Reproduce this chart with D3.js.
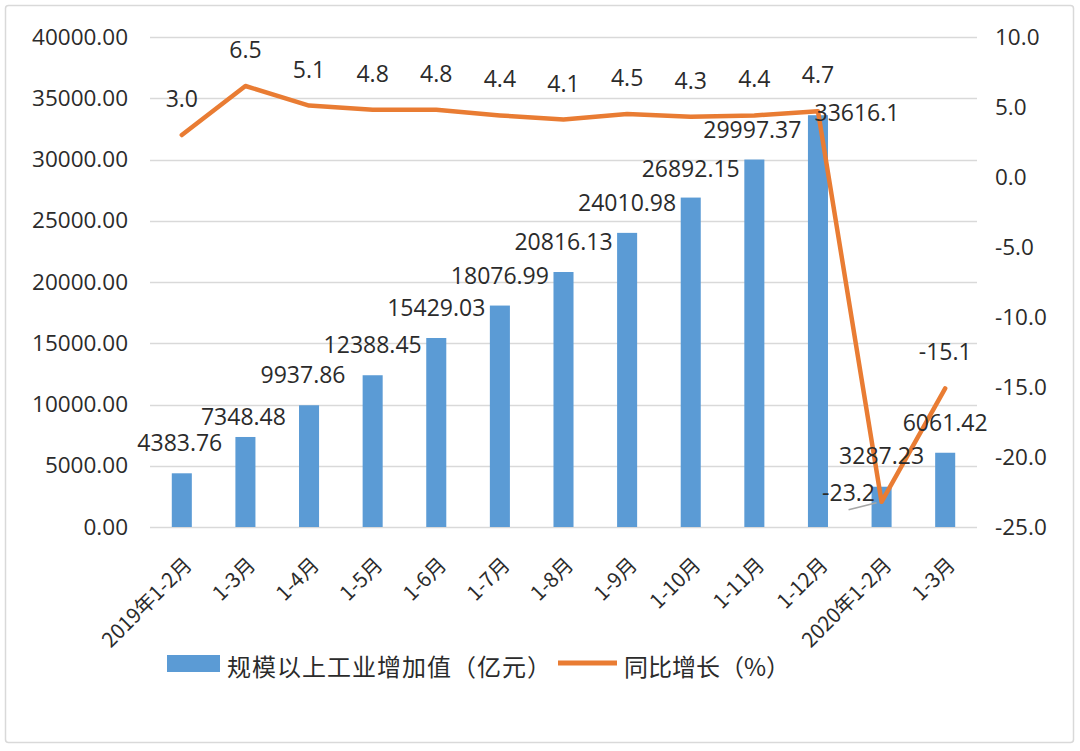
<!DOCTYPE html>
<html>
<head>
<meta charset="utf-8">
<script src="https://cdn.jsdelivr.net/npm/d3@7"></script>
<style>
  html, body { margin: 0; padding: 0; background: #fff; }
  svg { display: block; }
</style>
</head>
<body>
<svg id="chart" width="1080" height="751"></svg>
<script>
// ---------- data ----------
const categories = ["2019年1-2月","1-3月","1-4月","1-5月","1-6月","1-7月","1-8月","1-9月","1-10月","1-11月","1-12月","2020年1-2月","1-3月"];
const industrialValue = [4383.76, 7348.48, 9937.86, 12388.45, 15429.03, 18076.99, 20816.13, 24010.98, 26892.15, 29997.37, 33616.1, 3287.23, 6061.42];
const yoyGrowth = [3.0, 6.5, 5.1, 4.8, 4.8, 4.4, 4.1, 4.5, 4.3, 4.4, 4.7, -23.2, -15.1];
const leftTicks = [0, 5000, 10000, 15000, 20000, 25000, 30000, 35000, 40000];
const rightTicks = [-25, -20, -15, -10, -5, 0, 5, 10];
const seriesNames = ["规模以上工业增加值（亿元）", "同比增长（%）"];

// label nudges (pixels) relative to default placement
const barLabelNudge = [[-2,0],[-2,10],[-6,0],[0,0],[0,0],[0,0],[0,0],[0,0],[0,1],[-2,0],[39,28],[0,-1],[0,0]];
const lineLabelNudge = [[0,0],[0,0],[0,0],[0,0],[0,0],[0,0],[0,0],[0,0],[0,0],[0,0],[0,0],[-33,27],[0,0]];

// ---------- style ----------
const BLUE = "#5B9BD5", ORANGE = "#E97C33", TEXT = "#2b2b2b", GRID = "#d9d9d9";
const numFont = "'Open Sans', 'Noto Sans', sans-serif";
const cjkFont = "'Noto Sans CJK SC', 'Noto Sans', sans-serif";

const svg = d3.select("#chart");
const plot = { left: 150, right: 977, top: 37, bottom: 527 };

// frame
svg.append("rect").attr("x", 5.5).attr("y", 5.5).attr("width", 1068).attr("height", 737)
  .attr("rx", 3).attr("fill", "#fff").attr("stroke", GRID).attr("stroke-width", 1.5);

const x = d3.scaleBand().domain(d3.range(categories.length)).range([plot.left, plot.right]).padding(0);
const yL = d3.scaleLinear().domain([0, 40000]).range([plot.bottom, plot.top]);
const yR = d3.scaleLinear().domain([-25, 10]).range([plot.bottom, plot.top]);
const barW = x.bandwidth() * 0.315;
const cx = i => x(i) + x.bandwidth() / 2;

// gridlines
svg.append("g").selectAll("line").data(leftTicks).join("line")
  .attr("x1", plot.left).attr("x2", plot.right)
  .attr("y1", d => Math.round(yL(d)) + 0.5).attr("y2", d => Math.round(yL(d)) + 0.5)
  .attr("stroke", GRID).attr("stroke-width", 1.3);

// left axis
const leftAxis = d3.axisLeft(yL).tickValues(leftTicks).tickFormat(d => d.toFixed(2)).tickSize(0).tickPadding(22);
const gL = svg.append("g").attr("transform", `translate(${plot.left},0)`).call(leftAxis);
gL.select(".domain").remove();
gL.selectAll("text").attr("fill", TEXT).style("font-family", numFont).style("font-size", "22.5px");

// right axis
const rightAxis = d3.axisRight(yR).tickValues(rightTicks).tickFormat(d => d.toFixed(1)).tickSize(0).tickPadding(18);
const gR = svg.append("g").attr("transform", `translate(${plot.right},0)`).call(rightAxis);
gR.select(".domain").remove();
gR.selectAll("text").attr("fill", TEXT).style("font-family", numFont).style("font-size", "22.5px");

// bars
svg.append("g").selectAll("rect").data(industrialValue).join("rect")
  .attr("x", (d, i) => cx(i) - barW / 2)
  .attr("width", barW)
  .attr("y", d => yL(d))
  .attr("height", d => yL(0) - yL(d))
  .attr("fill", BLUE);

// x axis labels
const bottomAxis = d3.axisBottom(x).tickFormat(i => categories[i]).tickSize(0).tickPadding(0);
const gB = svg.append("g").attr("transform", `translate(0,${plot.bottom})`).call(bottomAxis);
gB.select(".domain").remove();
gB.selectAll("text")
  .attr("fill", TEXT)
  .style("font-family", cjkFont).style("font-size", "20.5px")
  .attr("text-anchor", "end")
  .attr("dy", null).attr("y", 0)
  .attr("transform", "translate(5,33) rotate(-45)")
  .attr("dominant-baseline", "central");

// line
const line = d3.line().x((d, i) => cx(i)).y(d => yR(d));
svg.append("path").datum(yoyGrowth)
  .attr("d", line).attr("fill", "none")
  .attr("stroke", ORANGE).attr("stroke-width", 4.5)
  .attr("stroke-linejoin", "round").attr("stroke-linecap", "round");

// bar labels
svg.append("g").selectAll("text").data(industrialValue).join("text")
  .attr("x", (d, i) => cx(i) + barLabelNudge[i][0])
  .attr("y", (d, i) => yL(d) - 31 + barLabelNudge[i][1])
  .attr("text-anchor", "middle").attr("dominant-baseline", "central")
  .attr("fill", TEXT).style("font-family", numFont).style("font-size", "23px")
  .text(d => String(d));

// line labels
svg.append("g").selectAll("text").data(yoyGrowth).join("text")
  .attr("x", (d, i) => cx(i) + lineLabelNudge[i][0])
  .attr("y", (d, i) => yR(d) - 37 + lineLabelNudge[i][1])
  .attr("text-anchor", "middle").attr("dominant-baseline", "central")
  .attr("fill", TEXT).style("font-family", numFont).style("font-size", "23px")
  .text(d => d.toFixed(1));

// leader line for the displaced label
yoyGrowth.forEach((d, i) => {
  if (lineLabelNudge[i][0] !== 0) {
    svg.append("line")
      .attr("x1", cx(i) - 33).attr("y1", yR(d) + 8)
      .attr("x2", cx(i) - 5).attr("y2", yR(d) + 1)
      .attr("stroke", "#a6a6a6").attr("stroke-width", 1.5);
  }
});

// legend
const lg = svg.append("g");
lg.append("rect").attr("x", 167).attr("y", 655).attr("width", 53).attr("height", 17).attr("fill", BLUE);
lg.append("text").attr("x", 227).attr("y", 665).attr("dominant-baseline", "central")
  .attr("fill", TEXT).style("font-family", cjkFont).style("font-size", "24px")
  .style("letter-spacing", "1px").text(seriesNames[0]);
lg.append("line").attr("x1", 558).attr("x2", 617).attr("y1", 663).attr("y2", 663)
  .attr("stroke", ORANGE).attr("stroke-width", 5);
lg.append("text").attr("x", 624).attr("y", 665).attr("dominant-baseline", "central")
  .attr("fill", TEXT).style("font-family", cjkFont).style("font-size", "24px").text(seriesNames[1]);
</script>
</body>
</html>
